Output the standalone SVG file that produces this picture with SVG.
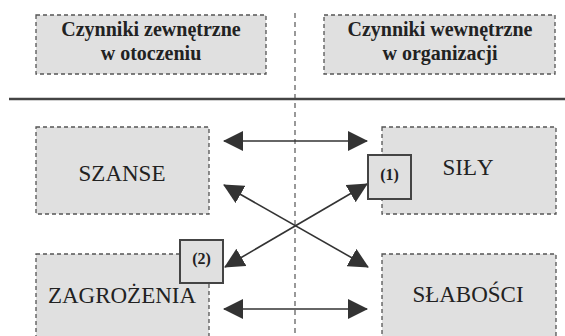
<svg xmlns="http://www.w3.org/2000/svg" width="565" height="336" viewBox="0 0 565 336">
<defs>
<marker id="ah" viewBox="0 0 20 20" refX="19" refY="10" markerWidth="20" markerHeight="20" markerUnits="userSpaceOnUse" orient="auto-start-reverse">
<path d="M0,0 L20,10 L0,20 Z" fill="#333"/>
</marker>
<style>
.box{fill:#e0e0e0;stroke:#555;stroke-width:1.3;stroke-dasharray:4 3}
.tag{fill:#e0e0e0;stroke:#444;stroke-width:2}
.hd{font-family:"Liberation Serif",serif;font-weight:bold;font-size:20px;fill:#222;text-anchor:middle}
.lb{font-family:"Liberation Serif",serif;font-size:23px;fill:#222;text-anchor:middle}
.tg{font-family:"Liberation Serif",serif;font-weight:bold;font-size:16px;fill:#222;text-anchor:middle}
.ar{stroke:#333;stroke-width:1.6;fill:none;marker-start:url(#ah);marker-end:url(#ah)}
</style>
</defs>
<rect width="565" height="336" fill="#fff"/>
<line x1="295" y1="13" x2="295" y2="336" stroke="#555" stroke-width="1.2" stroke-dasharray="5 4"/>
<line x1="9" y1="99" x2="565" y2="99" stroke="#444" stroke-width="2.5"/>
<g id="ext">
<rect class="box" x="36" y="15" width="230" height="59"/>
<text class="hd" x="151" y="36">Czynniki zewnętrzne</text>
<text class="hd" x="151" y="60">w otoczeniu</text>
</g>
<g id="int">
<rect class="box" x="324" y="15" width="231" height="59"/>
<text class="hd" x="440" y="36">Czynniki wewnętrzne</text>
<text class="hd" x="440" y="60">w organizacji</text>
</g>
<g id="szanse">
<rect class="box" x="36" y="127" width="173" height="87"/>
<text class="lb" x="122" y="181">SZANSE</text>
</g>
<g id="zagrozenia">
<rect class="box" x="36" y="254" width="173" height="90"/>
<text class="lb" x="122" y="303">ZAGROŻENIA</text>
</g>
<g id="sily">
<rect class="box" x="382" y="127" width="174" height="87"/>
<text class="lb" x="468" y="175">SIŁY</text>
</g>
<g id="slabosci">
<rect class="box" x="382" y="254" width="174" height="90"/>
<text class="lb" x="468" y="302">SŁABOŚCI</text>
</g>
<g id="connectors">
<line class="ar" x1="224" y1="141" x2="367" y2="141"/>
<line class="ar" x1="224" y1="309" x2="367" y2="309"/>
<line class="ar" x1="224" y1="185" x2="368" y2="267"/>
<line class="ar" x1="225" y1="267" x2="367" y2="184"/>
</g>
<g id="tag1">
<rect class="tag" x="368" y="155" width="43" height="44"/>
<text class="tg" x="389.5" y="180">(1)</text>
</g>
<g id="tag2">
<rect class="tag" x="180" y="240" width="43" height="43"/>
<text class="tg" x="201.5" y="264">(2)</text>
</g>
</svg>
